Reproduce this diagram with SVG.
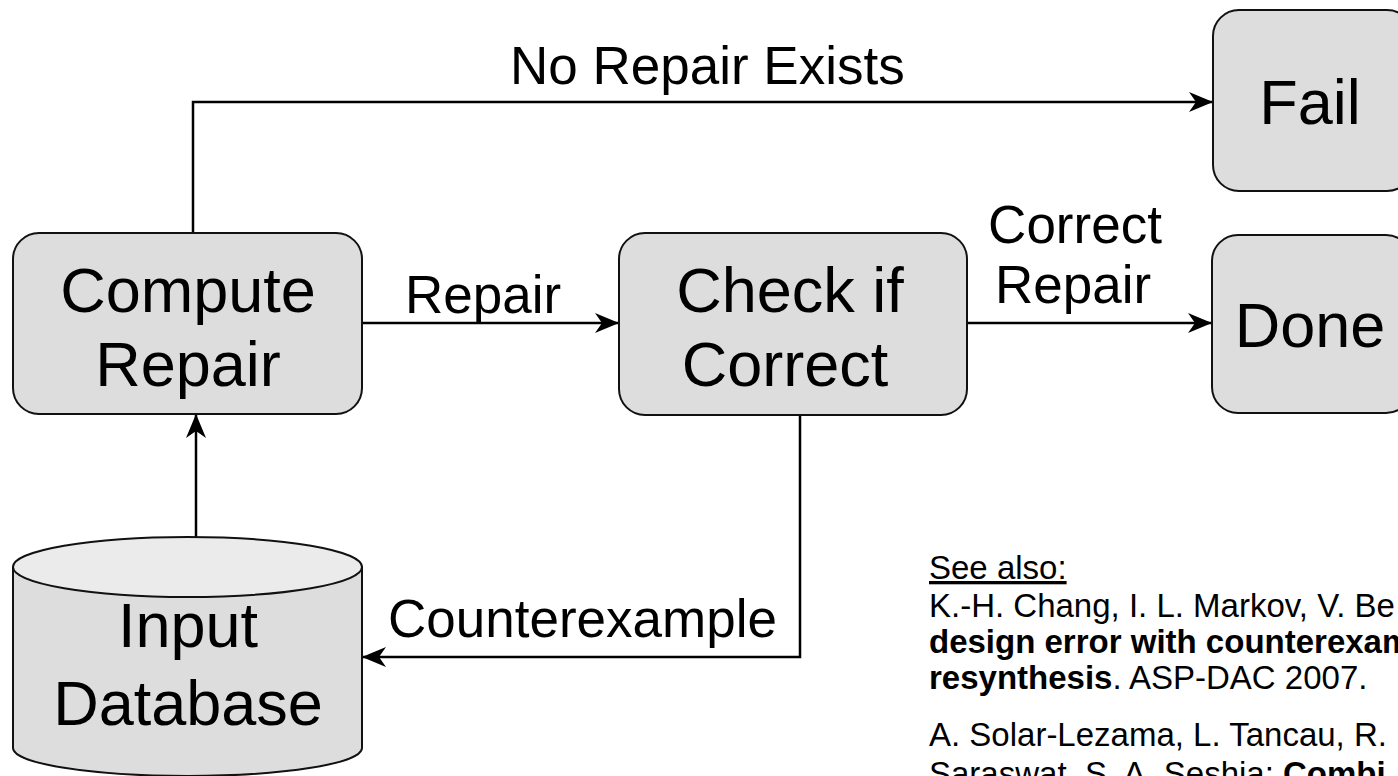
<svg xmlns="http://www.w3.org/2000/svg" width="1398" height="776" viewBox="0 0 1398 776">
<style>
.box{fill:#dddddd;stroke:#111;stroke-width:2}
.nt{font-family:"Liberation Sans",Arial,sans-serif;font-size:63px;fill:#000;text-anchor:middle}
.el{font-family:"Liberation Sans",Arial,sans-serif;font-size:53px;fill:#000}
.conn{fill:none;stroke:#000;stroke-width:2.5}
.ref{font-family:"Liberation Sans",Arial,sans-serif;font-size:33px;fill:#000}
</style>
<defs>
<marker id="arr" viewBox="0 0 24 20" refX="23" refY="10" markerWidth="24" markerHeight="20" markerUnits="userSpaceOnUse" orient="auto">
<path d="M0,0 L24,10 L0,20 L7,10 Z" fill="#000"/>
</marker>
</defs>
<rect width="1398" height="776" fill="#fff"/>
<g id="connectors">
<path class="conn" d="M193,233 V102 H1212" marker-end="url(#arr)"/>
<path class="conn" d="M362,323 H618" marker-end="url(#arr)"/>
<path class="conn" d="M967,323 H1211" marker-end="url(#arr)"/>
<path class="conn" d="M800,415 V657 H363" marker-end="url(#arr)"/>
<path class="conn" d="M196,537 V415" marker-end="url(#arr)"/>
</g>
<g id="labels">
<text class="el" x="510" y="84">No Repair Exists</text>
<text class="el" x="405" y="313">Repair</text>
<text class="el" x="1075" y="243" text-anchor="middle">Correct</text>
<text class="el" x="1073" y="303" text-anchor="middle">Repair</text>
<text class="el" x="388" y="637">Counterexample</text>
</g>
<g id="compute">
<rect class="box" x="13" y="233" width="349" height="181" rx="26"/>
<text class="nt" x="188" y="312">Compute</text>
<text class="nt" x="188" y="386">Repair</text>
</g>
<g id="check">
<rect class="box" x="619" y="233" width="348" height="182" rx="26"/>
<text class="nt" x="790" y="312">Check if</text>
<text class="nt" x="785" y="386">Correct</text>
</g>
<g id="fail">
<rect class="box" x="1213" y="10" width="200" height="181" rx="26"/>
<text class="nt" x="1310" y="124">Fail</text>
</g>
<g id="done">
<rect class="box" x="1212" y="235" width="200" height="178" rx="26"/>
<text class="nt" x="1310" y="347">Done</text>
</g>
<g id="database">
<path class="box" d="M13,567 L13,748 A174.5,28 0 0 0 362,748 L362,567 Z"/>
<ellipse cx="187.5" cy="567" rx="174.5" ry="30" fill="#ebebeb" stroke="#111" stroke-width="2"/>
<text class="nt" x="188" y="647">Input</text>
<text class="nt" x="188" y="725">Database</text>
</g>
<g id="references">
<text class="ref" x="929" y="579" text-decoration="underline">See also:</text>
<text class="ref" x="929" y="617">K.-H. Chang, I. L. Markov, V. Be</text>
<text class="ref" x="929" y="653" font-weight="bold">design error with counterexam</text>
<text class="ref" x="929" y="689"><tspan font-weight="bold">resynthesis</tspan>. ASP-DAC 2007.</text>
<text class="ref" x="929" y="746">A. Solar-Lezama, L. Tancau, R.</text>
<text class="ref" x="929" y="785">Saraswat, S. A. Seshia: <tspan font-weight="bold">Combi</tspan></text>
</g>
</svg>
